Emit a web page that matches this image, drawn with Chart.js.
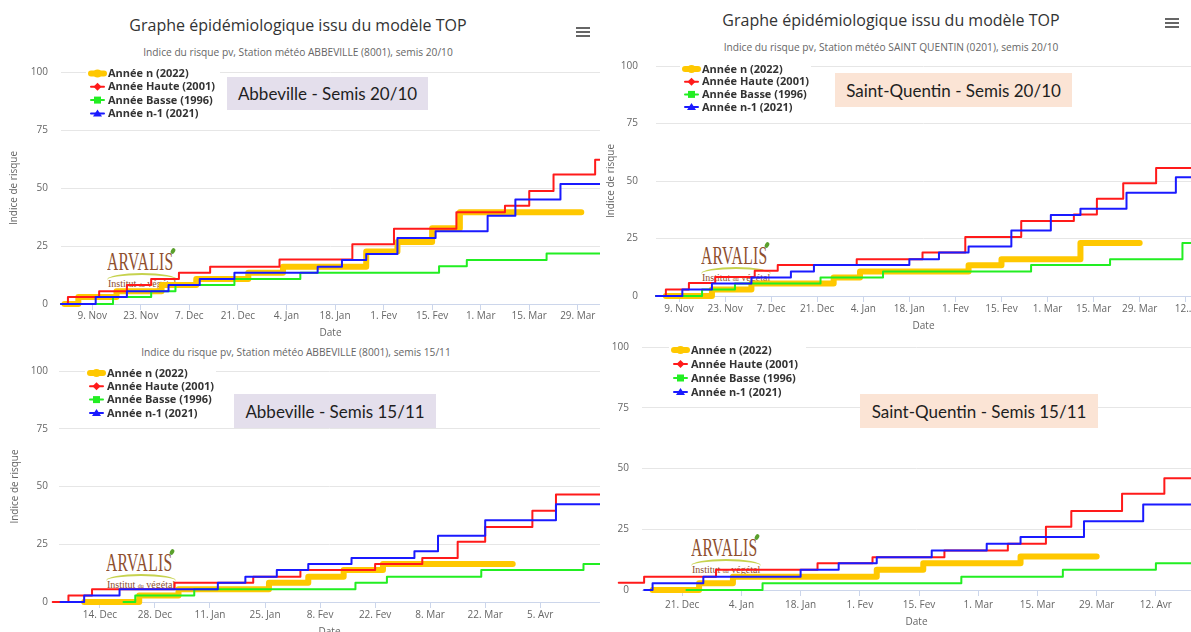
<!DOCTYPE html>
<html lang="fr">
<head>
  <meta charset="UTF-8" />
  <title>Graphe épidémiologique issu du modèle TOP</title>
  <script src="https://cdn.jsdelivr.net/npm/chart.js"></script>
  <style>
    html, body { margin: 0; padding: 0; background: #fff; overflow: hidden; }
    body { position: relative; width: 1191px; height: 632px; font-family: "Open Sans", sans-serif; }
    canvas { position: absolute; z-index: 2; }
    .title { position: absolute; width: 600px; text-align: center; white-space: nowrap; color: #333; font-size: 16px; line-height: 20px; }
    .subtitle { position: absolute; width: 600px; text-align: center; white-space: nowrap; color: #666; font-size: 10.2px; line-height: 12px; }
    .menu { position: absolute; width: 14px; height: 2px; background: #666; box-shadow: 0 4px 0 #666, 0 8px 0 #666; }
    .box { position: absolute; z-index: 3; display: flex; align-items: center; justify-content: center;
           font-family: Lato, sans-serif; font-size: 17px; color: #1e1e1e; white-space: nowrap; }
    .abb { background: #e4dfec; }
    .stq { background: #fbe4d5; }
    .logo { position: absolute; z-index: 1; width: 72px; height: 40px; }
    .logo .arv { position: absolute; left: 0; top: -2px; font-family: "Liberation Serif", serif; font-size: 26px; line-height: 26px;
                 color: #8e4f2e; transform: scaleX(0.6); transform-origin: left top; letter-spacing: 0.5px; }
    .logo .leaf { position: absolute; left: 64px; top: -3px; width: 4px; height: 6px; background: #5aa02c; border-radius: 50%; transform: rotate(30deg); }
    .logo .sw { position: absolute; left: 0; top: 22px; width: 70px; height: 5px; border-top: 2px solid #c6d24e; border-radius: 50% 50% 0 0 / 100% 100% 0 0; }
    .logo .inst { position: absolute; left: 1px; top: 27px; font-family: "Liberation Serif", serif; font-size: 10px; color: #8e4f2e; white-space: nowrap; }
    .logo .inst small { font-size: 6px; }
  </style>
</head>
<body>
  <!-- panneau haut gauche -->
  <div class="title" style="left:-2px;top:15px">Graphe épidémiologique issu du modèle TOP</div>
  <div class="menu" style="left:576px;top:27px"></div>
  <div class="subtitle" style="left:-2px;top:46px">Indice du risque pv, Station météo ABBEVILLE (8001), semis 20/10</div>
  <div class="logo" style="left:107px;top:251px"><div class="arv">ARVALIS</div><div class="leaf"></div><div class="sw"></div><div class="inst">Institut <small>du</small> végétal</div></div>
  <canvas id="c1" width="600" height="280" style="left:0;top:60px"></canvas>
  <div class="box abb" style="left:227px;top:77px;width:201px;height:33px">Abbeville - Semis 20/10</div>

  <!-- panneau haut droit -->
  <div class="title" style="left:591px;top:10px">Graphe épidémiologique issu du modèle TOP</div>
  <div class="menu" style="left:1165px;top:18px"></div>
  <div class="subtitle" style="left:591px;top:41px">Indice du risque pv, Station météo SAINT QUENTIN (0201), semis 20/10</div>
  <div class="logo" style="left:701px;top:245px"><div class="arv">ARVALIS</div><div class="leaf"></div><div class="sw"></div><div class="inst">Institut <small>du</small> végétal</div></div>
  <canvas id="c2" width="591" height="280" style="left:600px;top:55px"></canvas>
  <div class="box stq" style="left:835px;top:73px;width:237px;height:34px">Saint-Quentin - Semis 20/10</div>

  <!-- panneau bas gauche -->
  <div class="subtitle" style="left:-4px;top:346px">Indice du risque pv, Station météo ABBEVILLE (8001), semis 15/11</div>
  <div class="logo" style="left:106px;top:552px"><div class="arv">ARVALIS</div><div class="leaf"></div><div class="sw"></div><div class="inst">Institut <small>du</small> végétal</div></div>
  <canvas id="c3" width="600" height="278" style="left:0;top:362px"></canvas>
  <div class="box abb" style="left:234px;top:394px;width:202px;height:34px">Abbeville - Semis 15/11</div>

  <!-- panneau bas droit -->
  <div class="logo" style="left:691px;top:537px"><div class="arv">ARVALIS</div><div class="leaf"></div><div class="sw"></div><div class="inst">Institut <small>du</small> végétal</div></div>
  <canvas id="c4" width="596" height="300" style="left:595px;top:340px"></canvas>
  <div class="box stq" style="left:860px;top:394px;width:238px;height:34px">Saint-Quentin - Semis 15/11</div>

  <script>
    Chart.defaults.font.family = '"Open Sans", sans-serif';
    Chart.defaults.font.size = 10;
    Chart.defaults.color = '#666';

    // jours comptés depuis le 1er novembre 2021, valeurs = indice de risque (paliers)
    const seriesNames = ['Année n (2022)', 'Année Haute (2001)', 'Année Basse (1996)', 'Année n-1 (2021)'];
    const seriesColors = ['#ffc800', '#ff1a1a', '#22ee22', '#1a1aff'];
    const seriesWidths = [6, 2, 2, 2];
    const seriesMarkers = ['circle', 'diamond', 'square', 'triangle'];

    // Abbeville, semis 20/10
    const abb2010_n = [[0,0],[4,3],[15,5.5],[28,8.2],[38,10.8],[53,13.5],[63,16.1],[87,22.6],[96,26.7],[106,32.7],[114,39.6],[149,39.6]];
    const abb2010_haute = [[-1,0],[1,3],[10,5.5],[18,8.2],[25,10.8],[33,13.5],[42,16.1],[62,19.2],[83,25.8],[95,32.4],[113,39.6],[127,42.4],[134,48.7],[141,55.8],[153,62.2],[160,62.2]];
    const abb2010_basse = [[-1,0],[14,3],[25,5.5],[32,8.2],[49,10.8],[68,13.5],[108,16.3],[116,19],[139,21.8],[160,21.8]];
    const abb2010_n1 = [[-1,0],[9,3],[18,5.5],[30,8.2],[39,10.8],[49,13.5],[73,16.1],[80,19],[87,21.6],[96,28.4],[107,31.4],[122,38],[130,45],[143,51.7],[160,51.7]];

    // Saint-Quentin, semis 20/10
    const stq2010_n = [[4,0],[18,2.8],[30,5.4],[55,8],[63,10.7],[96,13.4],[106,16],[130,23],[148,23]];
    const stq2010_haute = [[1,0],[4,2.8],[11,5.7],[19,8.3],[31,11],[38,13.5],[62,16],[82,18.9],[95,25.6],[112,32.6],[128,35.4],[135,42.3],[143,49],[153,55.7],[170,55.7]];
    const stq2010_basse = [[1,0],[15,2.8],[25,5.4],[51,8],[70,10.7],[115,13.5],[139,16],[161,23],[170,23]];
    const stq2010_n1 = [[1,0],[9,2.8],[18,5.4],[30,8],[42,10.7],[49,13.5],[78,16],[87,18.9],[96,21.5],[109,28.5],[121,35.2],[130,37.9],[144,44.9],[159,51.6],[170,51.6]];

    // Abbeville, semis 15/11
    const abb1511_n = [[39,0],[53,2.8],[63,5.5],[86,8.3],[96,10.9],[105,13.8],[115,16.5],[148,16.5]];
    const abb1511_haute = [[31,0],[35,2.8],[41,5.5],[62,8.3],[82,10.9],[94,13.8],[113,16.5],[125,19.1],[134,26.1],[141,32.5],[153,39.5],[159,46.5],[172,46.5]];
    const abb1511_basse = [[49,0],[52,2.8],[67,5.5],[108,8.3],[116,10.9],[140,13.8],[166,16.5],[172,16.5]];
    const abb1511_n1 = [[33,0],[39,2.8],[48,5.5],[73,8.3],[80,10.9],[88,13.8],[96,16.5],[107,19.1],[123,22],[129,28.7],[141,35.4],[159,42.3],[172,42.3]];

    // Saint-Quentin, semis 15/11
    const stq1511_n = [[43,0],[54,2.8],[62,5.5],[96,8.3],[107,11],[130,13.8],[148,13.8]];
    const stq1511_haute = [[33,0],[35,3],[41,5.5],[58,8.3],[82,11],[95,13.5],[112,16.3],[127,19],[136,26],[142,32.5],[154,39.6],[164,46],[172,46]];
    const stq1511_basse = [[51,0],[69,2.8],[116,5.5],[140,8.3],[162,11],[172,11]];
    const stq1511_n1 = [[41,0],[43,2.8],[55,5.5],[78,8.3],[87,11],[96,13.5],[109,16.3],[122,19],[130,21.8],[145,28.3],[159,35.2],[172,35.2]];

    // graduations de l'axe des dates
    const ticks2010 = [8, 22, 36, 50, 64, 78, 92, 106, 120, 134, 148, 162];
    const labelsAbb2010 = ['9. Nov', '23. Nov', '7. Dec', '21. Dec', '4. Jan', '18. Jan', '1. Fev', '15. Fev', '1. Mar', '15. Mar', '29. Mar', '12. Avr'];
    const labelsStq2010 = ['9. Nov', '23. Nov', '7. Dec', '21. Dec', '4. Jan', '18. Jan', '1. Fev', '15. Fev', '1. Mar', '15. Mar', '29. Mar', '12....'];
    const ticksAbb1511 = [43, 57, 71, 85, 99, 113, 127, 141, 155];
    const labelsAbb1511 = ['14. Dec', '28. Dec', '11. Jan', '25. Jan', '8. Fev', '22. Fev', '8. Mar', '22. Mar', '5. Avr'];
    const ticksStq1511 = [50, 64, 78, 92, 106, 120, 134, 148, 162];
    const labelsStq1511 = ['21. Dec', '4. Jan', '18. Jan', '1. Fev', '15. Fev', '1. Mar', '15. Mar', '29. Mar', '12. Avr'];

    function drawMarker(ctx, type, x, y) {
      ctx.beginPath();
      if (type === 'circle') {
        ctx.arc(x, y, 4, 0, Math.PI * 2);
      } else if (type === 'diamond') {
        ctx.moveTo(x, y - 4); ctx.lineTo(x + 4, y); ctx.lineTo(x, y + 4); ctx.lineTo(x - 4, y); ctx.closePath();
      } else if (type === 'square') {
        ctx.rect(x - 3.5, y - 3.5, 7, 7);
      } else {
        ctx.moveTo(x, y - 4); ctx.lineTo(x + 4.5, y + 3); ctx.lineTo(x - 4.5, y + 3); ctx.closePath();
      }
      ctx.fill();
    }

    // légende flottante façon Highcharts, posée dans la zone du graphe
    const floatLegend = {
      id: 'floatLegend',
      afterDraw(chart, args, opts) {
        const ctx = chart.ctx;
        const sets = chart.data.datasets;
        ctx.save();
        ctx.fillStyle = '#fff';
        ctx.fillRect(opts.x - 4, opts.y - 7, opts.w, (sets.length - 1) * opts.gap + 14);
        ctx.font = 'bold 11px "Open Sans"';
        ctx.textBaseline = 'middle';
        sets.forEach((ds, i) => {
          const y = opts.y + i * opts.gap;
          ctx.strokeStyle = ds.borderColor;
          ctx.fillStyle = ds.borderColor;
          ctx.lineWidth = ds.borderWidth;
          ctx.lineCap = 'round';
          ctx.beginPath();
          ctx.moveTo(opts.x + 1, y);
          ctx.lineTo(opts.x + 14, y);
          ctx.stroke();
          drawMarker(ctx, seriesMarkers[i], opts.x + 7.5, y);
          ctx.fillStyle = '#333';
          ctx.fillText(ds.label, opts.x + 18, y + 0.5);
        });
        ctx.restore();
      }
    };

    function buildChart(id, series, tickDays, tickLabels, o) {
      const datasets = series.map((pts, i) => ({
        label: seriesNames[i],
        data: pts,
        borderColor: seriesColors[i],
        backgroundColor: seriesColors[i],
        borderWidth: seriesWidths[i],
        stepped: true,
        pointRadius: 0,
        fill: false,
        clip: false,
        order: 3 - i,
        borderJoinStyle: 'round',
        borderCapStyle: 'round'
      }));

      return new Chart(document.getElementById(id), {
        type: 'line',
        data: { datasets: datasets },
        options: {
          responsive: false,
          animation: false,
          events: [],
          layout: { padding: { top: o.padTop, left: 0, right: 0, bottom: 0 } },
          plugins: {
            legend: { display: false },
            tooltip: { enabled: false },
            floatLegend: o.legend
          },
          scales: {
            x: {
              type: 'linear',
              min: o.xMin,
              max: o.xMax,
              afterBuildTicks: s => {
                s.ticks = tickDays.filter(d => d >= o.xMin && d <= o.xMax).map(d => ({ value: d }));
              },
              afterFit: s => { s.height = o.xHeight; s.paddingLeft = 0; s.paddingRight = 0; },
              ticks: {
                autoSkip: false,
                maxRotation: 0,
                padding: o.xLabelPad,
                callback: v => tickLabels[tickDays.indexOf(v)]
              },
              grid: { drawOnChartArea: false, tickLength: 6, color: '#ccd6eb' },
              border: { color: '#ccd6eb' },
              title: { display: true, text: 'Date', padding: { top: 0, bottom: o.datePad } }
            },
            y: {
              min: 0,
              max: 100,
              afterFit: s => { s.width = o.yWidth; s.paddingTop = 0; s.paddingBottom = 0; },
              ticks: { stepSize: 25, padding: o.yLabelPad },
              grid: { color: '#e6e6e6', drawTicks: false },
              border: { display: false },
              title: { display: o.yTitle, text: 'Indice de risque', padding: { top: o.yTitlePad, bottom: 0 } }
            }
          }
        },
        plugins: [floatLegend]
      });
    }

    buildChart('c1', [abb2010_n, abb2010_haute, abb2010_basse, abb2010_n1], ticks2010, labelsAbb2010, {
      xMin: -1, xMax: 154.4, padTop: 12, xHeight: 36, yWidth: 61, yLabelPad: 13, xLabelPad: 0,
      datePad: 1, yTitle: true, yTitlePad: 8,
      legend: { x: 90, y: 13.5, gap: 13.3, w: 134 }
    });

    buildChart('c2', [stq2010_n, stq2010_haute, stq2010_basse, stq2010_n1], ticks2010, labelsStq2010, {
      xMin: 1, xMax: 163.6, padTop: 11, xHeight: 39, yWidth: 56, yLabelPad: 18, xLabelPad: 1,
      datePad: 3, yTitle: true, yTitlePad: 5,
      legend: { x: 84, y: 14, gap: 12.7, w: 131 }
    });

    buildChart('c3', [abb1511_n, abb1511_haute, abb1511_basse, abb1511_n1], ticksAbb1511, labelsAbb1511, {
      xMin: 32.6, xMax: 170.2, padTop: 9, xHeight: 38, yWidth: 59, yLabelPad: 11, xLabelPad: 1,
      datePad: 2, yTitle: true, yTitlePad: 9,
      legend: { x: 89, y: 11, gap: 13.3, w: 131 }
    });

    buildChart('c4', [stq1511_n, stq1511_haute, stq1511_basse, stq1511_n1], ticksStq1511, labelsStq1511, {
      xMin: 40.5, xMax: 170.3, padTop: 7, xHeight: 50, yWidth: 47, yLabelPad: 13, xLabelPad: 3,
      datePad: 12, yTitle: false, yTitlePad: 0,
      legend: { x: 78, y: 10, gap: 14, w: 137 }
    });
  </script>
</body>
</html>
